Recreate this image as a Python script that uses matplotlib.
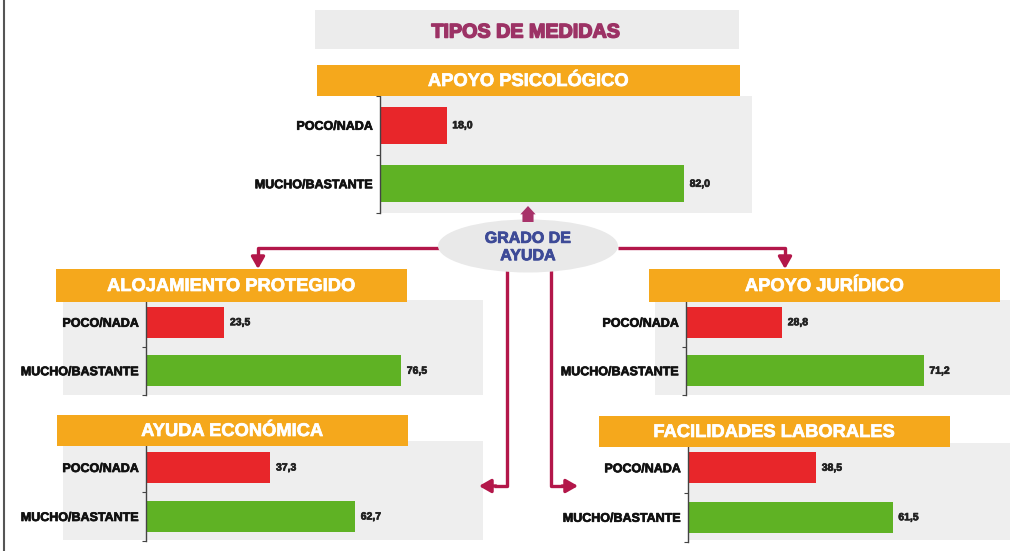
import matplotlib
matplotlib.use("Agg")
import matplotlib.pyplot as plt
import matplotlib.patheffects as pe
from matplotlib.patches import Rectangle, Ellipse

plt.rcParams["font.family"] = ["Liberation Sans", "DejaVu Sans"]
plt.rcParams["font.weight"] = "bold"

# data
categories = ["POCO/NADA", "MUCHO/BASTANTE"]
titles = ["APOYO PSICOLÓGICO", "ALOJAMIENTO PROTEGIDO", "APOYO JURÍDICO",
          "AYUDA ECONÓMICA", "FACILIDADES LABORALES"]
poco = [18.0, 23.5, 28.8, 37.3, 38.5]
mucho = [82.0, 76.5, 71.2, 62.7, 61.5]

W, H = 1024, 551
ORANGE = "#f5a81c"
RED = "#e8262a"
GREEN = "#5fb224"
BG = "#eeeeee"
CRIMSON = "#b3174a"

# layout in pixels: header box, gray background, bar axes (x0, y0, x1, y1)
headers = [(317, 65, 740, 96), (56, 269, 407, 302), (649, 269, 1000, 302),
           (57, 415, 408, 446), (599, 416, 950, 447)]
backs = [(380, 96, 752, 213), (63, 300, 483, 395), (655, 300, 1010, 395),
         (63, 441, 483, 540), (688, 443, 1010, 540)]
axes_px = [(380, 96, 752, 213), (146, 298, 483, 395), (686, 298, 1010, 395),
           (146, 443, 483, 541), (688, 443, 1010, 542)]
xmax = [100.3, 101.0, 97.0, 101.0, 96.7]


def frac(box):
    x0, y0, x1, y1 = box
    return [x0 / W, 1 - y1 / H, (x1 - x0) / W, (y1 - y0) / H]


def heavy(color, w):
    return [pe.withStroke(linewidth=w, foreground=color)]


fig = plt.figure(figsize=(W / 100, H / 100), dpi=100)

# bottom layer: backgrounds, connectors, ellipse
base = fig.add_axes([0, 0, 1, 1], zorder=0)
base.set_xlim(0, W)
base.set_ylim(H, 0)
base.axis("off")

base.plot([4, 4], [0, H], color="#555555", lw=1.5)
for x0, y0, x1, y1 in backs:
    base.add_patch(Rectangle((x0, y0), x1 - x0, y1 - y0, color=BG, lw=0))

lw = 2.4
arrow = dict(arrowstyle="-|>,head_length=0.7,head_width=0.4", color=CRIMSON,
             lw=lw, shrinkA=0, shrinkB=0)
# left and right branches to the middle row
base.plot([440, 258, 258], [248, 248, 258], color=CRIMSON, lw=lw, solid_capstyle="butt")
base.annotate("", xy=(258, 269), xytext=(258, 256), arrowprops=arrow)
base.plot([618, 785, 785], [248, 248, 258], color=CRIMSON, lw=lw, solid_capstyle="butt")
base.annotate("", xy=(785, 269), xytext=(785, 256), arrowprops=arrow)
# branches down to the bottom row
base.plot([507, 507, 494], [270, 486, 486], color=CRIMSON, lw=lw, solid_capstyle="butt")
base.annotate("", xy=(479, 486), xytext=(496, 486), arrowprops=arrow)
base.plot([551, 551, 564], [270, 486, 486], color=CRIMSON, lw=lw, solid_capstyle="butt")
base.annotate("", xy=(578, 486), xytext=(562, 486), arrowprops=arrow)

base.add_patch(Ellipse((528, 246), 180, 53, color="#e9e9e9", lw=0, zorder=3))
base.text(528, 247, "GRADO DE\nAYUDA", ha="center", va="center", fontsize=11.5,
          color="#3d4a97", fontweight="bold", linespacing=1.2, zorder=4,
          path_effects=heavy("#3d4a97", 0.6))

# bar panels
for i in range(len(titles)):
    ax = fig.add_axes(frac(axes_px[i]), zorder=1)
    ax.patch.set_alpha(0)
    vals = [poco[i], mucho[i]]
    ax.barh([0, 1], vals, height=0.63, color=[RED, GREEN], edgecolor="none")
    ax.set_xlim(0, xmax[i])
    ax.set_ylim(1.5, -0.5)
    for sp in ["top", "right", "bottom"]:
        ax.spines[sp].set_visible(False)
    ax.spines["left"].set_color("#444444")
    ax.spines["left"].set_linewidth(1.0)
    ax.set_xticks([])
    ax.set_yticks([0, 1])
    ax.set_yticklabels(categories, fontsize=9, fontweight="bold", color="#111111")
    for lab in ax.get_yticklabels():
        lab.set_path_effects(heavy("#111111", 0.5))
    ax.tick_params(axis="y", which="major", length=0, pad=5)
    ax.set_yticks([-0.5, 0.5, 1.5], minor=True)
    ax.tick_params(axis="y", which="minor", length=3, width=0.8, color="#444444")
    for y, v in zip([0, 1], vals):
        ax.annotate(f"{v:.1f}".replace(".", ","), xy=(v, y), xytext=(4, 0),
                    textcoords="offset points", va="center", ha="left",
                    fontsize=7.5, fontweight="bold", color="#222222",
                    path_effects=heavy("#222222", 0.5))

# top layer: title and headers
top = fig.add_axes([0, 0, 1, 1], zorder=2)
top.set_xlim(0, W)
top.set_ylim(H, 0)
top.axis("off")
top.patch.set_alpha(0)

top.add_patch(Rectangle((315, 10), 424, 39, color="#ececec", lw=0))
top.text(526, 32, "TIPOS DE MEDIDAS", ha="center", va="center", fontsize=14.2,
         fontweight="bold", color="#9c3265", path_effects=heavy("#9c3265", 1.1))

for (x0, y0, x1, y1), t in zip(headers, titles):
    top.add_patch(Rectangle((x0, y0), x1 - x0, y1 - y0, color=ORANGE, lw=0))
    top.text((x0 + x1) / 2, (y0 + y1) / 2 + 1, t, ha="center", va="center",
             fontsize=13.2, fontweight="bold", color="white",
             path_effects=heavy("white", 0.5))

# small fat arrow pointing up into the first panel
top.annotate("", xy=(528, 206), xytext=(528, 222),
             arrowprops=dict(arrowstyle="simple,head_width=1.1,head_length=0.6,tail_width=0.8",
                             color="#a8336a", lw=0, shrinkA=0, shrinkB=0))

fig.savefig("out.png", dpi=100)
